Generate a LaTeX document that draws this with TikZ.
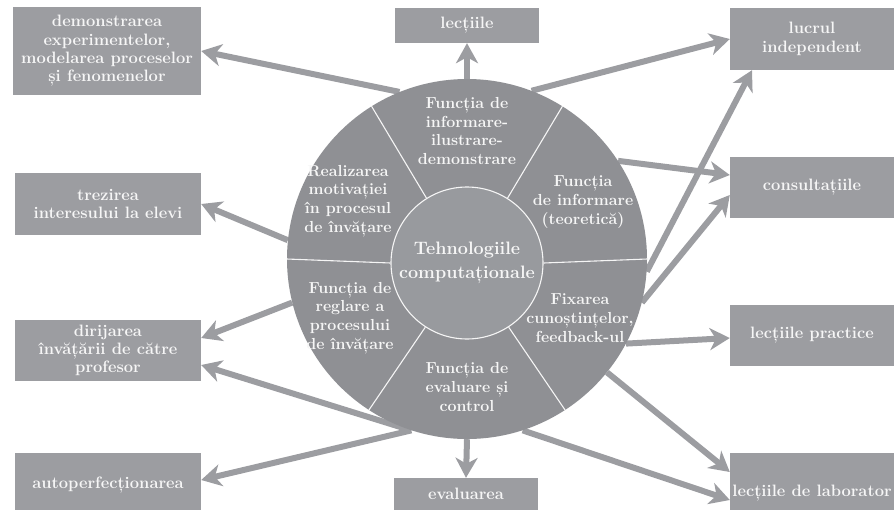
\documentclass[tikz,border=0pt]{standalone}
\usetikzlibrary{arrows.meta}
\definecolor{boxgray}{HTML}{9C9DA1}
\definecolor{circgray}{HTML}{8F9094}
\definecolor{innergray}{HTML}{989A9E}
\definecolor{txt}{HTML}{F6F6F6}
\begin{document}
\begin{tikzpicture}[x=1pt,y=-1pt,
  box/.style={fill=boxgray, draw=none, inner sep=0pt, text=txt,
    font=\fontsize{16.5}{18.3}\selectfont\bfseries, align=center},
  lbl/.style={text=txt, font=\fontsize{16}{18.6}\selectfont\bfseries,
    align=center, inner sep=0pt},
  arr/.style={draw=boxgray, line width=6pt,
    -{Stealth[length=20pt,width=22pt,inset=6pt]}},
  sepline/.style={draw=white!92!gray, line width=1.1pt}]
\useasboundingbox (0,0) rectangle (894,509);

% boxes
\node[box, minimum width=188pt, minimum height=88pt] (b1) at (107,51)
  {demonstrarea\\experimentelor,\\modelarea proceselor\\și fenomenelor};
\node[box, minimum width=144pt, minimum height=35pt] (b2) at (467,25.5) {lecțiile};
\node[box, minimum width=164pt, minimum height=62pt] (b3) at (812,39) {lucrul\\independent};
\node[box, minimum width=164pt, minimum height=61pt] (b4) at (812,187.5) {consultațiile};
\node[box, minimum width=186pt, minimum height=62pt] (b5) at (108,204) {trezirea\\interesului la elevi};
\node[box, minimum width=186pt, minimum height=61pt] (b6) at (108,350.5) {dirijarea\\învățării de către\\profesor};
\node[box, minimum width=186pt, minimum height=64pt] (b7) at (108,485) {autoperfecționarea};
\node[box, minimum width=144pt, minimum height=32pt] (b8) at (466,494) {evaluarea};
\node[box, minimum width=164pt, minimum height=61pt] (b9) at (812,335.5) {lecțiile practice};
\node[box, minimum width=164pt, minimum height=80pt] (b10) at (812,493) {lecțiile de laborator};

% circle anchor node
\node[circle, minimum size=360pt, inner sep=0pt] (circ) at (467,259) {};

% arrows (behind the circle)
\draw[arr] (circ.112.9) -- (b1.east);
\draw[arr] (circ.90) -- (b2.south);
\draw[arr] (circ.69.6) -- (b3.west);
\draw[arr] (circ.33.4) -- ([yshift=12.5pt]b4.west);
\draw[arr] (circ.-4.1) -- ([xshift=-60pt]b3.south);
\draw[arr] (circ.-14.6) -- ([yshift=-7.5pt]b4.west);
\draw[arr] (circ.-28.8) -- ([yshift=-2.5pt]b9.west);
\draw[arr] (circ.-39.7) -- ([yshift=21pt]b10.west);
\draw[arr] (circ.-72.8) -- ([yshift=-7pt]b10.west);
\draw[arr] (circ.-90) -- (b8.north);
\draw[arr] (circ.-108.2) -- ([yshift=5pt]b7.east);
\draw[arr] (circ.-108.2) -- ([yshift=-14.5pt]b6.east);
\draw[arr] (circ.194.5) -- ([yshift=12.5pt]b6.east);
\draw[arr] (circ.174.5) -- (b5.east);

% the disc
\fill[circgray] (circ.center) circle[radius=180pt];

% inner circle
\node[circle, fill=innergray, draw=white!92!gray, line width=1.1pt,
  minimum size=152pt, inner sep=0pt, text=txt,
  font=\fontsize{18}{23.5}\selectfont\bfseries, align=center] (core) at (467,263)
  {Tehnologiile\\computaționale};

% sector separators
\foreach \a in {58,122,180,237,303,0}
  \draw[sepline] (core.\a) -- (circ.\a);

% sector labels
\node[lbl] (s1) at (467,131) {Funcția de\\informare-\\ilustrare-\\demonstrare};
\node[lbl] (s2) at (348,201) {Realizarea\\motivației\\în procesul\\de învățare};
\node[lbl] (s3) at (583,202) {Funcția\\de informare\\(teoretică)};
\node[lbl] (s4) at (580,318) {Fixarea\\cunoștințelor,\\feedback-ul};
\node[lbl] (s5) at (350,318) {Funcția de\\reglare a\\procesului\\de învățare};
\node[lbl] (s6) at (467,387) {Funcția de\\evaluare și\\control};
\end{tikzpicture}
\end{document}
